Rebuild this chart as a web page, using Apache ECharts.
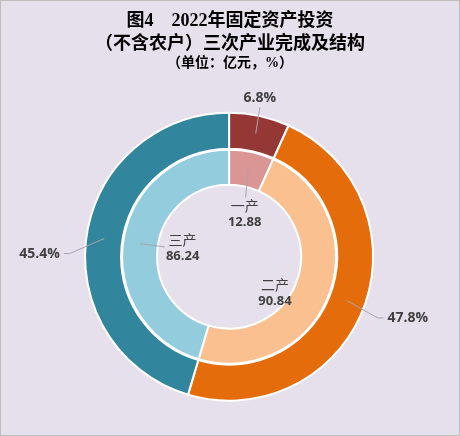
<!DOCTYPE html>
<html><head><meta charset="utf-8">
<script src="https://cdn.jsdelivr.net/npm/echarts@6/dist/echarts.min.js"></script>
<style>
html,body{margin:0;padding:0;background:#e6e0ec;}
#c{width:460px;height:436px;box-sizing:border-box;border:1px solid #bdbdbd;}
</style></head>
<body><div id="c"></div>
<script>
const categories = ['一产', '二产', '三产'];
const values = [12.88, 90.84, 86.24];
const outerColors = ['#953735', '#e46c0a', '#31859c'];
const innerColors = ['#d99694', '#fac090', '#93cddd'];
const titleLines = ['图4　2022年固定资产投资', '（不含农户）三次产业完成及结构', '（单位：亿元，%）'];

// label placement tweaks (layout only): [offsetX, offsetY, align]
const outerLabelOffset = [[-3, -2, 'center'], [8.6, 5.3, 'left'], [-11, 20, 'right']];
// [offsetX, offsetY, showLeaderLine]
const innerLabelOffset = [[5, 6, true], [-1, 19, false], [3, -1.5, true]];

const total = values.reduce((a, b) => a + b, 0);
const midAngles = [];
{ let cum = 0; values.forEach(v => { midAngles.push((cum + v / 2) / total * 2 * Math.PI); cum += v; }); }

const data = categories.map((n, i) => ({ name: n, value: values[i] }));
const centerPct = [0.498, 0.589];
const center = [centerPct[0] * 100 + '%', centerPct[1] * 100 + '%'];
const serif = "'Liberation Serif', 'Noto Sans CJK SC', serif";

const chart = echarts.init(document.getElementById('c'));
function polar(r, a) {
  const cx = chart.getWidth() * centerPct[0], cy = chart.getHeight() * centerPct[1];
  return [cx + r * Math.sin(a), cy - r * Math.cos(a)];
}
const titleStyle = { fontFamily: serif, fontWeight: 'bold', fontSize: 18, lineHeight: 21, color: '#000' };
chart.setOption({
  backgroundColor: '#e6e0ec',
  title: [
    { text: titleLines[0], left: 'center', top: 10, padding: 0, textStyle: titleStyle },
    { text: titleLines[1], left: 'center', top: 33, padding: 0, textStyle: titleStyle },
    { text: titleLines[2], left: 'center', top: 54, padding: 0,
      textStyle: { ...titleStyle, fontSize: 14, lineHeight: 17 } }
  ],
  series: [
    {
      type: 'pie', center, radius: [108, 144], startAngle: 90, silent: true,
      data: data.map((d, i) => ({ ...d, itemStyle: { color: outerColors[i] } })),
      itemStyle: { borderColor: '#fff', borderWidth: 2 },
      label: { show: false }, labelLine: { show: false }
    },
    {
      type: 'pie', center, radius: [72, 107], startAngle: 90, silent: true,
      data: data.map((d, i) => ({ ...d, itemStyle: { color: innerColors[i] } })),
      itemStyle: { borderColor: '#fff', borderWidth: 2 },
      label: { show: false }, labelLine: { show: false }
    },
    {
      type: 'pie', center, radius: [0, 126], startAngle: 90, silent: true, z: 5,
      percentPrecision: 1, avoidLabelOverlap: false,
      data: data,
      itemStyle: { color: 'rgba(0,0,0,0)' },
      label: {
        show: true, position: 'outside', formatter: '{d}%',
        fontFamily: "'Open Sans', sans-serif", fontWeight: 'bold', fontSize: 14, color: '#404040'
      },
      labelLine: { show: true, length: 30, length2: 6, lineStyle: { color: '#a6a6a6', width: 1 } },
      labelLayout: function (p) {
        const i = p.dataIndex;
        const [ox, oy, align] = outerLabelOffset[i];
        const a = midAngles[i];
        const c = polar(160, a);
        const x = c[0] + ox, y = c[1] + oy;
        const start = polar(126, a);
        let pts;
        if (align === 'center') pts = [start, [x, y + 9], [x, y + 9]];
        else if (align === 'left') pts = [start, [x - 10, y], [x - 4, y]];
        else pts = [start, [x + 10, y], [x + 4, y]];
        return { x, y, align, verticalAlign: 'middle', labelLinePoints: pts };
      }
    },
    {
      type: 'pie', center, radius: [0, 90], startAngle: 90, silent: true, z: 5,
      avoidLabelOverlap: false,
      data: data,
      itemStyle: { color: 'rgba(0,0,0,0)' },
      label: {
        show: true, position: 'outside', formatter: '{n|{b}}\n{v|{c}}',
        rich: {
          n: { fontFamily: "'Noto Sans CJK SC', sans-serif", fontSize: 14, color: '#404040', lineHeight: 17, align: 'center' },
          v: { fontFamily: "'Open Sans', sans-serif", fontWeight: 'bold', fontSize: 13, color: '#404040', lineHeight: 17, align: 'center' }
        }
      },
      labelLine: { show: true, length: 5, length2: 5, lineStyle: { color: '#a6a6a6', width: 1 } },
      labelLayout: function (p) {
        const i = p.dataIndex;
        const [ox, oy, line] = innerLabelOffset[i];
        const a = midAngles[i];
        const c = polar(50, a);
        const x = c[0] + ox, y = c[1] + oy;
        const w = p.labelRect.width, h = p.labelRect.height;
        const start = polar(90, a);
        let pts;
        if (!line) pts = [[x, y], [x, y], [x, y]];
        else if (Math.abs(Math.sin(a)) > 0.7) {
          const end = Math.sin(a) > 0 ? [x + w / 2 + 1, y - 1] : [x - w / 2 - 1, y - 1];
          pts = [start, end, end];
        } else {
          const end = [x + 1, y - h / 2 - 1];
          pts = [start, end, end];
        }
        return { x, y, align: 'center', verticalAlign: 'middle', labelLinePoints: pts };
      }
    }
  ]
});
</script></body></html>
